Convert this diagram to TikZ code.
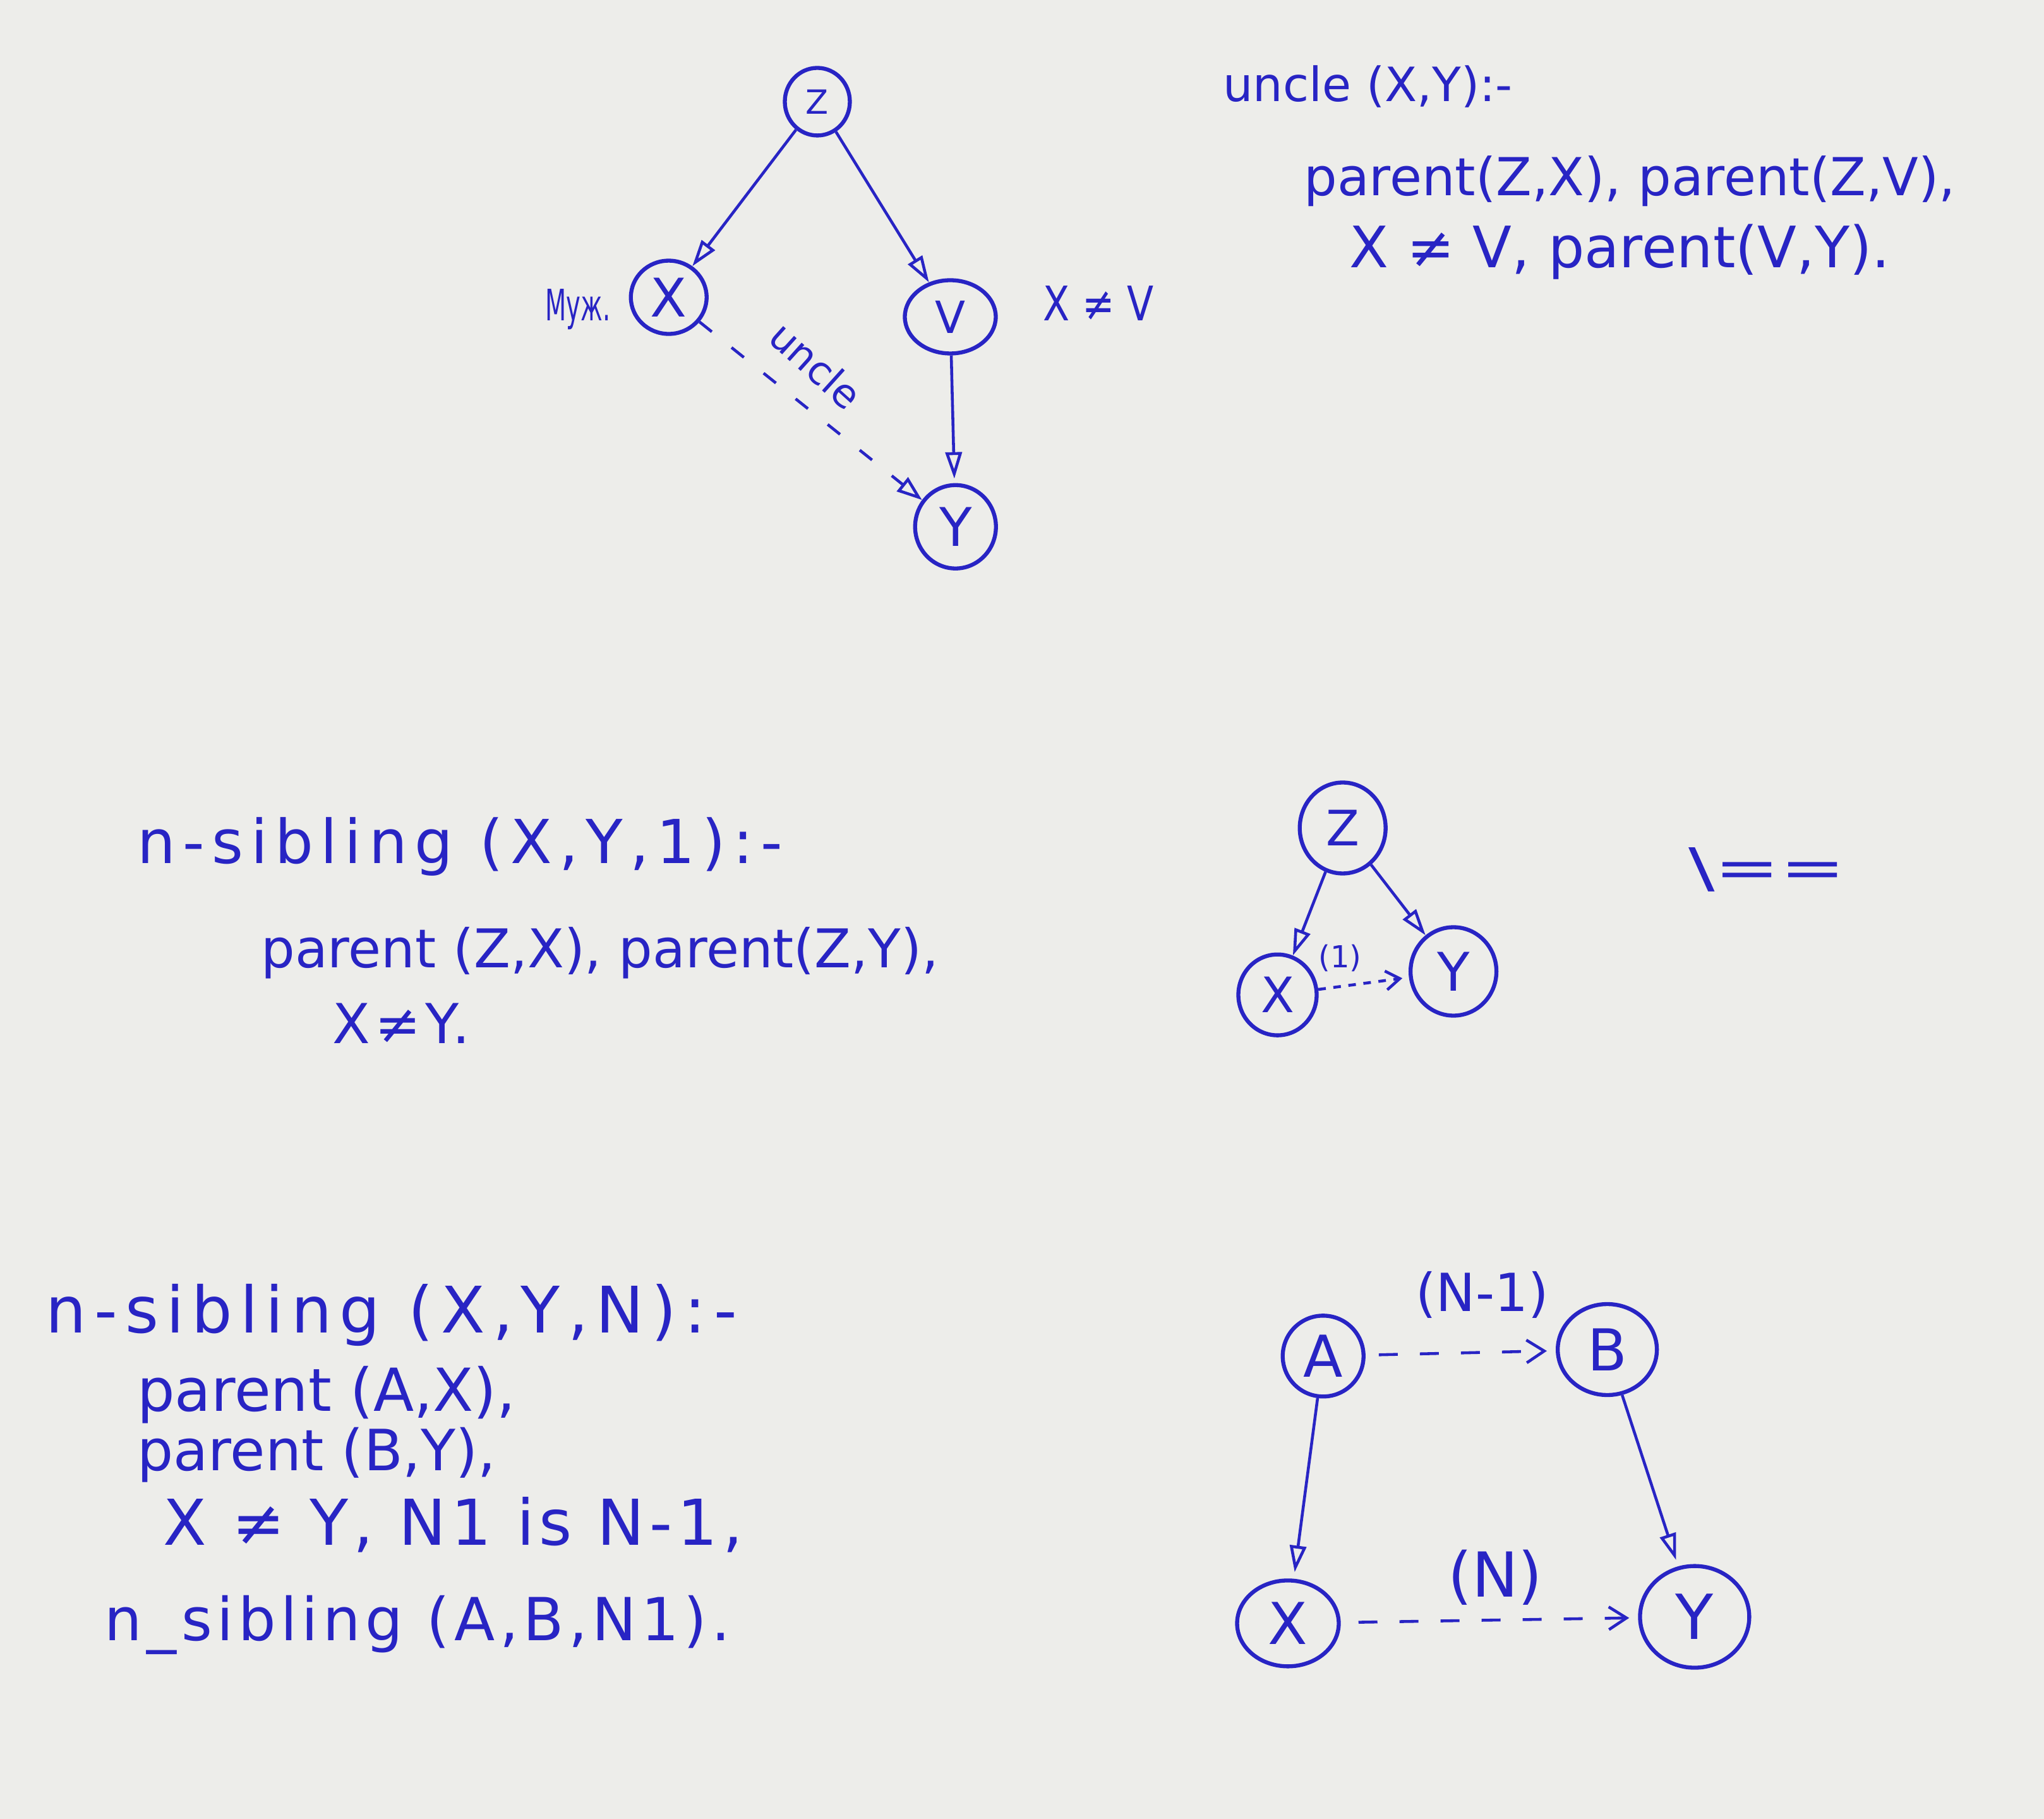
\documentclass[tikz,border=0pt]{standalone}
\usepackage{fontspec}
\setmainfont{DejaVu Sans}
\newfontfamily\spA[LetterSpace=12]{DejaVu Sans}
\newfontfamily\spB[LetterSpace=8]{DejaVu Sans}
\usetikzlibrary{arrows.meta,shapes.geometric}
\definecolor{ink}{RGB}{40,36,196}
\definecolor{paper}{RGB}{237,237,234}
\newcommand\fitw[2]{\resizebox{#1}{!}{#2}}
\newcommand\fitwh[3]{\resizebox{#1}{#2}{#3}}
\begin{document}
\begin{tikzpicture}[x=0.020638cm,y=-0.020638cm,
  nd/.style={ellipse,draw=ink,line width=1.8pt,inner sep=0pt,text=ink},
  txt/.style={anchor=base west,inner sep=0pt,text=ink,font=\fontsize{20}{20}\selectfont},
  lbl/.style={inner sep=0pt,text=ink,font=\fontsize{20}{20}\selectfont},
  edge/.style={draw=ink,line width=1.3pt,-{Triangle[open,length=0.42cm,width=0.26cm,line width=1.3pt]}},
  dtri/.style={draw=ink,line width=1.3pt,dash pattern=on 0.25cm off 0.4cm,-{Triangle[open,length=0.4cm,width=0.28cm,line width=1.3pt]}},
  dedge/.style={draw=ink,line width=1.3pt,dash pattern=on 0.3cm off 0.35cm,-{Straight Barb[length=0.28cm,width=0.36cm,line width=1.3pt]}},
  dshort/.style={draw=ink,line width=1.3pt,dash pattern=on 0.12cm off 0.12cm,-{Straight Barb[length=0.22cm,width=0.3cm,line width=1.3pt]}}
]
\fill[paper] (0,0) rectangle (1568,1395);
\useasboundingbox (0,0) rectangle (1568,1395);

% ---------- top tree ----------
\node[nd,minimum width=1.03cm,minimum height=1.07cm,font=\fontsize{15}{15}\selectfont] (tz) at (627,78) {Z};
\node[nd,minimum width=1.20cm,minimum height=1.16cm,font=\fontsize{24}{24}\selectfont] (tx) at (513,228) {X};
\node[nd,minimum width=1.44cm,minimum height=1.16cm,font=\fontsize{20}{20}\selectfont] (tv) at (729,243) {V};
\node[nd,minimum width=1.28cm,minimum height=1.32cm,font=\fontsize{24}{24}\selectfont] (ty) at (733,404) {Y};
\draw[edge] (tz) -- (tx);
\draw[edge] (tz) -- (tv);
\draw[edge,shorten >=2pt] (tv) -- (ty);
\draw[dtri] (tx) -- (ty);
\node[lbl,rotate=-42] (luncle) at (626,280) {\fitw{1.7cm}{uncle}};
\node[txt] (muz) at (418,246) {\fitwh{1.03cm}{0.5cm}{Муж.}};
\node[txt] (xnv) at (800,246) {\fitwh{1.75cm}{0.55cm}{X ≠ V}};

% ---------- top right rule ----------
\node[txt] (r1) at (938,78) {\fitw{4.58cm}{uncle (X,Y):-}};
\node[txt] (r2) at (1000,150) {\fitw{10.32cm}{parent(Z,X), parent(Z,V),}};
\node[txt] (r3) at (1035,205) {\fitw{8.56cm}{X ≠ V, parent(V,Y).}};

% ---------- middle rule ----------
\node[txt] (m1) at (105,662) {\fitw{10.22cm}{\spA n-sibling (X,Y,1):-}};
\node[txt] (m2) at (200,742) {\fitw{10.73cm}{parent (Z,X), parent(Z,Y),}};
\node[txt] (m3) at (255,800) {\fitw{2.17cm}{\spB X≠Y.}};

% ---------- middle tree ----------
\node[nd,minimum width=1.36cm,minimum height=1.44cm,font=\fontsize{22}{22}\selectfont] (mz) at (1030,635) {Z};
\node[nd,minimum width=1.24cm,minimum height=1.28cm,font=\fontsize{22}{22}\selectfont] (mx) at (980,763) {X};
\node[nd,minimum width=1.36cm,minimum height=1.40cm,font=\fontsize{24}{24}\selectfont] (my) at (1115,745) {Y};
\draw[edge] (mz) -- (mx);
\draw[edge] (mz) -- (my);
\draw[dshort,shorten >=3pt] (mx) -- (my);
\node[lbl] (lone) at (1028,735) {\fitw{0.68cm}{(1)}};
\node[txt] (bs) at (1295,680) {\fitwh{2.48cm}{0.62cm}{\textbackslash==}};

% ---------- bottom rule ----------
\node[txt] (b1) at (35,1022) {\fitw{10.94cm}{\spA n-sibling (X,Y,N):-}};
\node[txt] (b2) at (105,1082) {\fitw{5.99cm}{parent (A,X),}};
\node[txt] (b3) at (105,1128) {\fitw{5.68cm}{parent (B,Y),}};
\node[txt] (b4) at (125,1185) {\fitw{9.18cm}{\spB X ≠ Y, N1 is N-1,}};
\node[txt] (b5) at (80,1258) {\fitw{9.91cm}{\spB n\_sibling (A,B,N1).}};

% ---------- bottom tree ----------
\node[nd,minimum width=1.28cm,minimum height=1.28cm,font=\fontsize{26}{26}\selectfont] (ba) at (1015,1040) {A};
\node[nd,minimum width=1.57cm,minimum height=1.44cm,font=\fontsize{26}{26}\selectfont] (bb) at (1233,1035) {B};
\node[nd,minimum width=1.61cm,minimum height=1.36cm,font=\fontsize{26}{26}\selectfont] (bx) at (988,1245) {X};
\node[nd,minimum width=1.73cm,minimum height=1.61cm,font=\fontsize{28}{28}\selectfont] (by) at (1300,1240) {Y};
\draw[edge,shorten >=3pt] (ba) -- (bx);
\draw[edge,shorten >=3pt] (bb) -- (by);
\draw[dedge,shorten <=6pt,shorten >=4pt] (ba) -- (bb);
\draw[dedge,shorten <=8pt,shorten >=4pt] (bx) -- (by);
\node[lbl] (lnm1) at (1137,993) {\fitw{2.1cm}{(N-1)}};
\node[lbl] (ln) at (1147,1210) {\fitw{1.5cm}{(N)}};
\end{tikzpicture}
\end{document}
